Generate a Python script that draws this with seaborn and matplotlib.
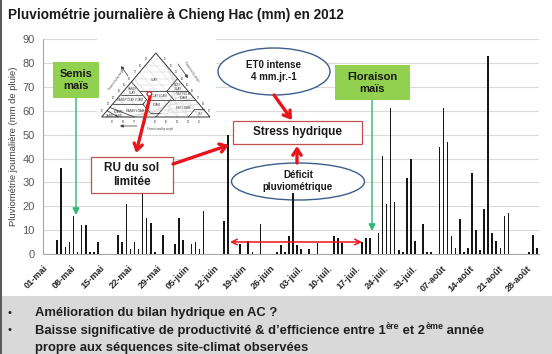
import numpy as np
import pandas as pd
import matplotlib
matplotlib.use("Agg")
import matplotlib.pyplot as plt
import seaborn as sns
from matplotlib.patches import Rectangle, Ellipse, Polygon, Circle, FancyArrowPatch
from matplotlib.transforms import Affine2D

# ---- daily rainfall, Chieng Hac, 2012 season (mm) ----
rain_dates = [
    "2012-05-04", "2012-05-05", "2012-05-06", "2012-05-07", "2012-05-08", "2012-05-09",
    "2012-05-10", "2012-05-11", "2012-05-12", "2012-05-13", "2012-05-14",
    "2012-05-19", "2012-05-20", "2012-05-21", "2012-05-22", "2012-05-23", "2012-05-24",
    "2012-05-25", "2012-05-26", "2012-05-27", "2012-05-28", "2012-05-30",
    "2012-06-02", "2012-06-03", "2012-06-04", "2012-06-06", "2012-06-07", "2012-06-08",
    "2012-06-09", "2012-06-14", "2012-06-15", "2012-06-18", "2012-06-20", "2012-06-21",
    "2012-06-23", "2012-06-27", "2012-06-28", "2012-06-29", "2012-06-30",
    "2012-07-01", "2012-07-02", "2012-07-03", "2012-07-05", "2012-07-07", "2012-07-11",
    "2012-07-12", "2012-07-13", "2012-07-18", "2012-07-19", "2012-07-20", "2012-07-22",
    "2012-07-23", "2012-07-24", "2012-07-25", "2012-07-26", "2012-07-27", "2012-07-28",
    "2012-07-29", "2012-07-30", "2012-07-31",
    "2012-08-02", "2012-08-03", "2012-08-04", "2012-08-06", "2012-08-07", "2012-08-08",
    "2012-08-09", "2012-08-10", "2012-08-11", "2012-08-12", "2012-08-13", "2012-08-14",
    "2012-08-15", "2012-08-16", "2012-08-17", "2012-08-18", "2012-08-19", "2012-08-20",
    "2012-08-21", "2012-08-22", "2012-08-23", "2012-08-28", "2012-08-29", "2012-08-30",
]
rain_mm = [
    6, 36, 3, 5, 16, 1,
    12, 12, 1, 1, 5,
    8, 5, 21, 2, 5, 2,
    25, 15, 13, 1, 8,
    4, 15, 6, 4, 5, 2,
    18, 14, 50, 4, 5.5, 1,
    12.5, 1, 3.6, 1, 7.5,
    25.5, 3.8, 2.2, 2.2, 4.8, 7.7,
    6.6, 4.5, 5, 6.5, 6.5, 9,
    41, 21, 61, 22, 1.7, 0.7,
    32, 40, 5.6,
    12.7, 0.7, 0.7, 45, 61, 47,
    7.6, 2.7, 14.6, 0.7, 2.7, 34,
    10, 1.7, 19, 83, 8.7, 5.6,
    2.7, 16, 17, 0.7, 8, 2.7,
]

season_start = "2012-05-01"
tick_labels = ["01-mai", "08-mai", "15-mai", "22-mai", "29-mai", "05-juin", "12-juin",
               "19-juin", "26-juin", "03-juil.", "10-juil.", "17-juil.", "24-juil.",
               "31-juil.", "07-août", "14-août", "21-août", "28-août"]
y_ticks = [0, 10, 20, 30, 40, 50, 60, 70, 80, 90]

# ---- style ----
sns.set_style("white")
plt.rcParams["font.family"] = ["Liberation Sans", "DejaVu Sans"]

W, H = 552, 354
fig = plt.figure(figsize=(W / 100, H / 100), dpi=100)
fig.patch.set_facecolor("white")

# pixel coordinates measured from the top-left corner of the slide
PX = Affine2D().scale(1, -1).translate(0, H).scale(1 / 100) + fig.dpi_scale_trans

ax = fig.add_axes([43 / W, 1 - 254 / H, (539 - 43) / W, (254 - 39.3) / H])

start = pd.Timestamp(season_start)
rain = pd.DataFrame({"date": pd.to_datetime(rain_dates), "mm": rain_mm})
rain["day"] = (rain["date"] - start).dt.days + 0.5

sns.barplot(data=rain, x="day", y="mm", native_scale=True, width=0.4,
            color="#161616", saturation=1, errorbar=None, linewidth=0,
            ax=ax, zorder=3)

ax.set_xlim(0, 122)
ax.set_ylim(0, 90)
ax.set_xlabel("")
ax.set_ylabel("Pluviométrie journalière (mm de pluie)", fontsize=6.8,
              color="#404040", labelpad=3)

tick_pos = [7 * i for i in range(len(tick_labels))]
ax.set_xticks(tick_pos)
ax.set_xticklabels(tick_labels, rotation=45, ha="right", va="top",
                   rotation_mode="anchor", fontsize=6.6, fontweight="bold",
                   color="#262626")
ax.set_yticks(y_ticks)
ax.set_yticklabels([str(v) for v in y_ticks], fontsize=8, color="#595959")
ax.tick_params(axis="x", length=4, width=0.8, color="#a6a6a6", pad=3, direction="out")
ax.tick_params(axis="y", length=4, width=0.8, color="#a6a6a6", pad=2, direction="out")

ax.yaxis.grid(True, color="#d9d9d9", lw=0.8, zorder=0)
ax.set_axisbelow(True)
for side in ("top", "right"):
    ax.spines[side].set_visible(False)
for side in ("left", "bottom"):
    ax.spines[side].set_color("#a6a6a6")
    ax.spines[side].set_linewidth(0.8)

# ---- slide frame: title, bottom band, bullets ----
fig.add_artist(Rectangle((0, 296), W, 58, transform=PX, fc="#d9d9d9", ec="none", zorder=0))
fig.add_artist(Rectangle((0, 0), 2, H, transform=PX, fc="#5a5a5a", ec="none", zorder=5))

fig.text(8 / W, 1 - 15 / H, "Pluviométrie journalière à Chieng Hac (mm) en 2012",
         fontsize=9.8, fontweight="bold", color="#1a1a1a", ha="left", va="center")

TEXT_DARK = "#1f1f1f"
bullet_kw = dict(fontsize=9.4, fontweight="bold", color=TEXT_DARK, transform=PX)
for yb in (313, 330):
    fig.text(8, yb, "•", fontsize=8, color=TEXT_DARK, transform=PX, va="center")
fig.text(35, 313, "Amélioration du bilan hydrique en AC ?", va="center", **bullet_kw)
fig.text(35, 347.5, "propre aux séquences site-climat observées", va="center", **bullet_kw)

# second bullet: pieces laid end to end on one baseline, ordinal suffixes raised
renderer = fig.canvas.get_renderer()
pieces = [("Baisse significative de productivité & d’efficience entre 1", False),
          ("ère", True), (" et 2", False), ("ème", True), (" année", False)]
x_cursor, baseline = 35.0, 334.0
for txt, sup in pieces:
    t = fig.text(x_cursor, baseline - (4.8 if sup else 0), txt, transform=PX,
                 fontsize=6.4 if sup else 9.4, fontweight="bold", color=TEXT_DARK,
                 ha="left", va="baseline")
    x_cursor += t.get_window_extent(renderer).width

# ---- annotations on the chart ----
def box(x0, y0, x1, y1, fc, ec, lw=0.9, z=6):
    ax.add_patch(Rectangle((x0, y0), x1 - x0, y1 - y0, transform=PX, fc=fc, ec=ec,
                           lw=lw, zorder=z, clip_on=False))

def label(x, y, s, size, z=7, color="#1a1a1a"):
    ax.text(x, y, s, transform=PX, ha="center", va="center", fontsize=size,
            fontweight="bold", color=color, zorder=z, linespacing=1.25, clip_on=False)

def arrow(p0, p1, color, lw, style, z=8, scale=10):
    ax.add_patch(FancyArrowPatch(p0, p1, transform=PX, arrowstyle=style, color=color,
                                 lw=lw, mutation_scale=scale, zorder=z, clip_on=False,
                                 shrinkA=0, shrinkB=0))

GREEN_FILL = "#92d050"
GREEN_LINE = "#2eb872"
RED = "#e8141c"
BOX_EDGE = "#c0504d"
ELL_EDGE = "#3b5e8c"

# sowing / flowering markers
box(53, 62, 99, 98, GREEN_FILL, "none")
label(76, 80, "Semis\nmaïs", 8)
arrow((76, 98), (76, 215), GREEN_LINE, 1.0, "-|>,head_length=0.5,head_width=0.25", scale=8)

box(335, 65, 410, 100, GREEN_FILL, "none")
label(372.5, 82.5, "Floraison\nmaïs", 8)
arrow((372, 100), (372, 231), GREEN_LINE, 1.0, "-|>,head_length=0.5,head_width=0.25", scale=8)

# water-stress diagram
box(91, 157, 173, 193, "white", BOX_EDGE)
label(132, 175, "RU du sol\nlimitée", 8.5)
box(233, 121, 362, 144, "white", BOX_EDGE)
label(297.5, 132.5, "Stress hydrique", 8.5)

ax.add_patch(Ellipse((274, 71.5), 112, 47, transform=PX, fc="white", ec=ELL_EDGE,
                     lw=1.0, zorder=2.5, clip_on=False))
label(274, 71.5, "ET0 intense\n4 mm.jr.-1", 7, z=2.6)
ax.add_patch(Ellipse((298, 181.5), 133, 37, transform=PX, fc="white", ec=ELL_EDGE,
                     lw=1.0, zorder=2.5, clip_on=False))
label(298, 181.5, "Déficit\npluviométrique", 7, z=2.6)

red_head = "->,head_length=0.45,head_width=0.3"
arrow((173, 164), (229, 145), RED, 2.4, red_head)
arrow((274, 95), (292, 120), RED, 2.4, red_head)
arrow((297, 163), (297, 146), RED, 2.4, red_head)
arrow((150, 97), (136, 153), RED, 2.4, red_head)
arrow((230, 242), (362, 242), RED, 1.1, "<->,head_length=0.5,head_width=0.25", scale=8)

# ---- soil texture triangle (USDA classes) ----
box(97, 33, 216, 131, "white", "none", z=5)
TX0, TX1, TY0, TY1 = 101.7, 210.0, 117.0, 53.0

def tri(sand, clay):
    xn = 1 - sand / 100 - clay / 200
    return TX0 + xn * (TX1 - TX0), TY0 - clay / 100 * (TY0 - TY1)

for k in range(10, 100, 10):
    for a, b in ((tri(100 - k, k), tri(0, k)),          # constant clay
                 (tri(k, 0), tri(k, 100 - k)),          # constant sand
                 (tri(0, k), tri(100 - k, 0))):         # constant silt
        ax.plot([a[0], b[0]], [a[1], b[1]], transform=PX, color="#c8c8c8", lw=0.3,
                zorder=5.1, clip_on=False)

outline = [tri(100, 0), tri(0, 0), tri(0, 100)]
ax.add_patch(Polygon(outline, closed=True, transform=PX, fc="none", ec="#333333",
                     lw=0.7, zorder=5.3, clip_on=False))
class_lines = [
    [(0, 60), (20, 40)], [(0, 40), (45, 40)], [(0, 27), (45, 27)], [(20, 27), (20, 40)],
    [(45, 27), (45, 55)], [(45, 35), (65, 35)], [(45, 27), (52, 20)], [(52, 20), (80, 20)],
    [(52, 7), (52, 20)], [(23, 27), (50, 0)], [(43, 7), (52, 7)], [(0, 12), (8, 12)],
    [(8, 12), (20, 0)], [(70, 0), (85, 15)], [(85, 0), (90, 10)],
]
for seg in class_lines:
    p = [tri(*q) for q in seg]
    ax.plot([p[0][0], p[1][0]], [p[0][1], p[1][1]], transform=PX, color="#333333",
            lw=0.55, zorder=5.2, clip_on=False)

class_names = [("CLAY", 22, 58), ("SILTY\nCLAY", 6, 47), ("SANDY\nCLAY", 51, 41),
               ("CLAY LOAM", 31, 33), ("SILTY CLAY\nLOAM", 8, 33), ("SANDY CLAY LOAM", 60, 27),
               ("LOAM", 40, 18), ("SILT LOAM", 18, 14), ("SANDY LOAM", 64, 10),
               ("SILT", 6, 5), ("LOAMY\nSAND", 82, 5), ("SAND", 92, 2)]
for name, s, c in class_names:
    x, y = tri(s, c)
    ax.text(x, y, name, transform=PX, fontsize=2.0, ha="center", va="center",
            color="#333333", zorder=5.4, clip_on=False, linespacing=1.0)

for k in range(10, 100, 10):
    x, y = tri(100 - k, k)
    ax.text(x - 3, y, str(k), transform=PX, fontsize=1.8, ha="right", va="center",
            color="#444444", zorder=5.4, clip_on=False)
    x, y = tri(0, 100 - k)
    ax.text(x + 3, y, str(k), transform=PX, fontsize=1.8, ha="left", va="center",
            color="#444444", zorder=5.4, clip_on=False)
    x, y = tri(k, 0)
    ax.text(x, y + 3, str(k), transform=PX, fontsize=1.8, ha="center", va="top",
            color="#444444", zorder=5.4, clip_on=False)

small_head = "-|>,head_length=0.3,head_width=0.15"
arrow((137, 126), (120, 126), "#333333", 0.5, small_head, z=5.5, scale=6)
ax.text(160, 129, "Percent sand by weight", transform=PX, fontsize=1.8, ha="center",
        va="center", color="#444444", zorder=5.5, clip_on=False)
arrow((128, 76), (121, 66), "#333333", 0.5, small_head, z=5.5, scale=6)
ax.text(117, 80, "Percent clay by weight", transform=PX, fontsize=1.8, ha="center",
        va="center", rotation=55, color="#444444", zorder=5.5, clip_on=False)
arrow((178, 64), (188, 78), "#333333", 0.5, small_head, z=5.5, scale=6)
ax.text(191, 72, "Percent silt by weight", transform=PX, fontsize=1.8, ha="center",
        va="center", rotation=-55, color="#444444", zorder=5.5, clip_on=False)

cx, cy = tri(38, 36)
ax.add_patch(Circle((cx, cy), 2.3, transform=PX, fc="none", ec=RED, lw=0.9,
                    zorder=5.6, clip_on=False))

fig.savefig("out.png", dpi=100, facecolor=fig.get_facecolor())
